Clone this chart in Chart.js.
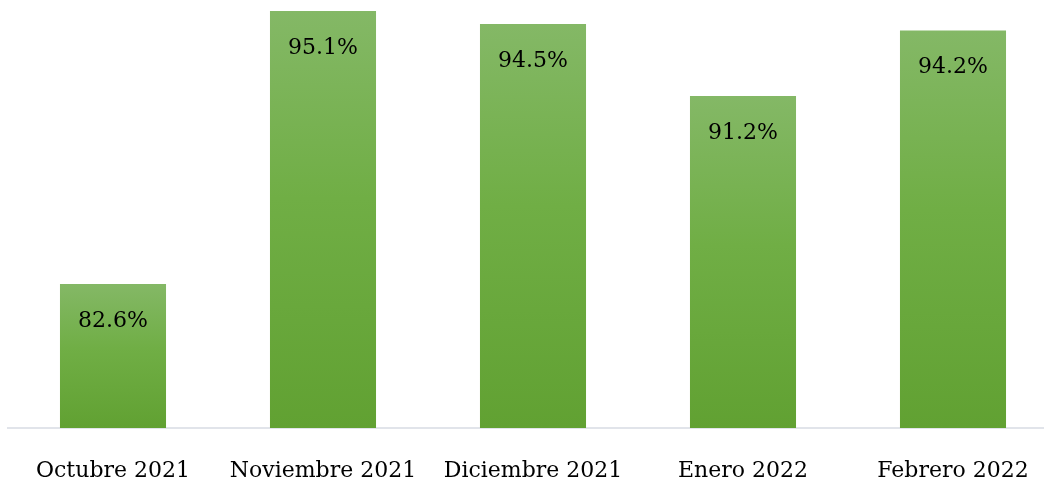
<!DOCTYPE html>
<html>
<head>
<meta charset="utf-8">
<script src="https://cdn.jsdelivr.net/npm/chart.js@4.4.1/dist/chart.umd.min.js"></script>
<style>
    html, body { margin: 0; padding: 0; background: #fff; overflow: hidden; }
    #wrap { position: relative; width: 1058px; height: 483px; }
</style>
</head>
<body>
<div id="wrap"><canvas id="chart"></canvas></div>
<script>
    // Monthly percentages
    const months = ['Octubre 2021', 'Noviembre 2021', 'Diciembre 2021', 'Enero 2022', 'Febrero 2022'];
    const values = [82.6, 95.1, 94.5, 91.2, 94.2];
    const valueLabels = ['82.6%', '95.1%', '94.5%', '91.2%', '94.2%'];

    const Y_MIN = 76;
    const Y_MAX = 95.6;
    const SERIF = '"DejaVu Serif", "Liberation Serif", serif';

    /**
     * Vertical green gradient spanning each bar from its top to the base
     */
    function barGradient(context) {
        const chart = context.chart;
        const area = chart.chartArea;
        if (!area || context.parsed === undefined) return '#70ad47';
        const y = chart.scales.y;
        const top = y.getPixelForValue(context.parsed.y);
        const bottom = y.getPixelForValue(Y_MIN);
        const g = chart.ctx.createLinearGradient(0, top, 0, bottom);
        g.addColorStop(0, '#84b866');
        g.addColorStop(0.45, '#70ae45');
        g.addColorStop(1, '#61a132');
        return g;
    }

    // Values written inside the top of each bar
    const innerLabels = {
        id: 'innerLabels',
        afterDatasetsDraw(chart) {
            const ctx = chart.ctx;
            const meta = chart.getDatasetMeta(0);
            ctx.save();
            ctx.font = '22px ' + SERIF;
            ctx.fillStyle = '#000';
            ctx.textAlign = 'center';
            ctx.textBaseline = 'middle';
            meta.data.forEach(function(bar, i) {
                ctx.fillText(valueLabels[i], bar.x, bar.y + 37);
            });
            ctx.restore();
        }
    };

    new Chart(document.getElementById('chart'), {
        type: 'bar',
        data: {
            labels: months,
            datasets: [{
                data: values,
                backgroundColor: barGradient,
                borderWidth: 0,
                categoryPercentage: 1,
                barPercentage: 0.505
            }]
        },
        options: {
            responsive: true,
            maintainAspectRatio: false,
            animation: false,
            layout: { padding: { left: 8, right: 0, top: 0, bottom: 0 } },
            plugins: {
                legend: { display: false },
                tooltip: { enabled: false }
            },
            scales: {
                x: {
                    grid: { display: false },
                    border: { color: '#e1e4ea', width: 2 },
                    ticks: {
                        color: '#000',
                        font: { family: SERIF, size: 22 },
                        padding: 22,
                        maxRotation: 0,
                        autoSkip: false
                    },
                    afterFit: function(axis) { axis.height = 55; }
                },
                y: {
                    display: false,
                    min: Y_MIN,
                    max: Y_MAX
                }
            }
        },
        plugins: [innerLabels]
    });
</script>
</body>
</html>
